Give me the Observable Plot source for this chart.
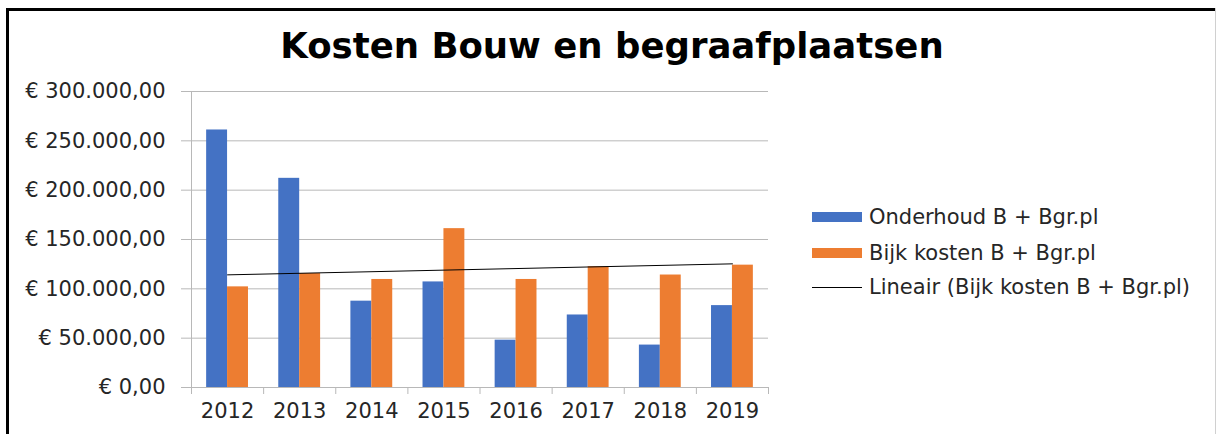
<!DOCTYPE html>
<html>
<head>
<meta charset="utf-8">
<script src="https://cdn.jsdelivr.net/npm/d3@7"></script>
<script src="https://cdn.jsdelivr.net/npm/@observablehq/plot@0.6"></script>
<style>
  html, body { margin: 0; padding: 0; background: #fff; }
  #wrap { position: relative; width: 1217px; height: 434px; overflow: hidden; font-family: "DejaVu Sans", sans-serif; color: #262626; }
  #chart { position: absolute; left: 0; top: 0; }
  .frame-top { position: absolute; left: 6px; top: 8px; width: 1210px; height: 3px; background: #000; }
  .frame-left { position: absolute; left: 6px; top: 8px; width: 3px; height: 430px; background: #000; }
  .frame-right { position: absolute; left: 1215px; top: 8px; width: 1px; height: 430px; background: #d0d0d0; }
  #title { position: absolute; left: 0; width: 1224px; top: 26px; text-align: center; font-weight: bold; font-size: 35.5px; color: #000; line-height: 40px; }
  .leg { position: absolute; left: 812px; height: 24px; display: flex; align-items: center; font-size: 21px; white-space: nowrap; color: #262626; }
  .sw { width: 50px; height: 10px; margin-right: 7px; }
  .ln { width: 50px; height: 1px; background: #000; margin-right: 7px; }
</style>
</head>
<body>
<div id="wrap">
  <div id="chart"></div>
  <div class="frame-top"></div>
  <div class="frame-left"></div>
  <div class="frame-right"></div>
  <div id="title">Kosten Bouw en begraafplaatsen</div>
  <div id="legend"></div>
</div>
<script>
const years = [2012, 2013, 2014, 2015, 2016, 2017, 2018, 2019];
const onderhoud = [261000, 212000, 87500, 107000, 48000, 73500, 43000, 83000];
const bijkKosten = [102000, 115500, 109500, 161000, 109500, 122500, 114000, 124000];
const yTicks = [0, 50000, 100000, 150000, 200000, 250000, 300000];
const seriesNames = ["Onderhoud B + Bgr.pl", "Bijk kosten B + Bgr.pl", "Lineair (Bijk kosten B + Bgr.pl)"];
const colors = ["#4472C4", "#ED7D31"];

const half = 0.29;
const dataO = years.map((y, i) => ({year: y, value: onderhoud[i]}));
const dataB = years.map((y, i) => ({year: y, value: bijkKosten[i]}));
const bounds = years.map(y => y - 0.5).concat([years[years.length - 1] + 0.5]);

const euro = d3.formatLocale({decimal: ",", thousands: ".", grouping: [3], currency: ["€ ", ""]}).format("$,.2f");

const W = 1217, H = 434;
const chart = Plot.plot({
  width: W,
  height: H,
  marginLeft: 191,
  marginRight: W - 768,
  marginTop: 91,
  marginBottom: H - 387,
  style: {fontFamily: "DejaVu Sans, sans-serif", fontSize: "21px", color: "#262626", background: "transparent"},
  x: {type: "linear", domain: [bounds[0], bounds[bounds.length - 1]]},
  y: {domain: [0, 300000]},
  marks: [
    Plot.gridY(yTicks, {stroke: "#b8b8b8", strokeOpacity: 1, strokeWidth: 1}),
    Plot.axisY(yTicks, {tickSize: 10, tickPadding: 16, tickFormat: euro, stroke: "#b8b8b8", strokeOpacity: 1, label: null, fill: "#262626"}),
    Plot.rectY(dataO, {x1: d => d.year - half, x2: d => d.year, y: "value", fill: colors[0]}),
    Plot.rectY(dataB, {x1: d => d.year, x2: d => d.year + half, y: "value", fill: colors[1]}),
    Plot.linearRegressionY(dataB, {x: "year", y: "value", ci: 0, stroke: "#000", strokeWidth: 1}),
    Plot.ruleX([bounds[0]], {stroke: "#b8b8b8"}),
    Plot.ruleY([0], {stroke: "#b8b8b8"}),
    Plot.axisX(bounds, {tickSize: 7, tickFormat: () => "", stroke: "#b8b8b8", strokeOpacity: 1, label: null}),
    Plot.axisX(years, {tickSize: 0, tickPadding: 16, tickFormat: d => String(d), label: null, fill: "#262626"})
  ]
});
document.getElementById("chart").appendChild(chart);

const legend = document.getElementById("legend");
const tops = [205, 241, 275];
seriesNames.forEach((name, i) => {
  const row = document.createElement("div");
  row.className = "leg";
  row.style.top = tops[i] + "px";
  const s = document.createElement("div");
  if (i < 2) { s.className = "sw"; s.style.background = colors[i]; } else { s.className = "ln"; }
  row.appendChild(s);
  const t = document.createElement("span");
  t.textContent = name;
  row.appendChild(t);
  legend.appendChild(row);
});
</script>
</body>
</html>
